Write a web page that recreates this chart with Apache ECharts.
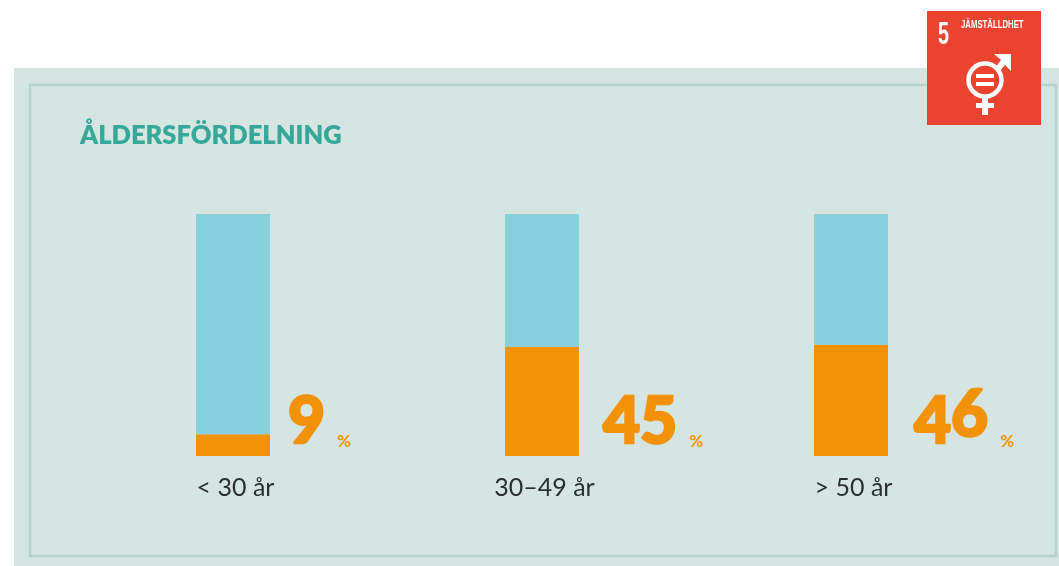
<!DOCTYPE html>
<html><head><meta charset="utf-8">
<script src="https://cdn.jsdelivr.net/npm/echarts@6/dist/echarts.min.js"></script>
<style>html,body{margin:0;padding:0;background:#fff}#c{width:1059px;height:566px}</style>
</head><body><div id="c"></div>
<script>
const categories = ['< 30 år', '30–49 år', '> 50 år'];
const sharePct = [9, 45, 46];
const restPct = [91, 55, 54];
const titleText = 'ÅLDERSFÖRDELNING';
const labelOffsets = [18, 24, 26];

const chart = echarts.init(document.getElementById('c'), null, {renderer: 'canvas'});
const white = '#fff';
const numStyle = {fontFamily: 'Lato', fontWeight: 900, fontSize: 64, color: '#f39207', lineHeight: 62, textBorderColor: '#f39207', textBorderWidth: 2.5};
chart.setOption({
  animation: false,
  backgroundColor: '#fff',
  title: {
    text: titleText, left: 75, top: 118,
    textStyle: {fontFamily: 'Lato', fontWeight: 800, fontSize: 25.5, color: '#35a899'}
  },
  grid: {left: 78.5, width: 927, top: 214, height: 242},
  xAxis: {
    type: 'category', data: categories,
    axisLine: {show: false}, axisTick: {show: false},
    axisLabel: {fontFamily: 'Lato', fontSize: 25, color: '#2a2f33', margin: 19, interval: 0, padding: [0, 0, 0, 5]}
  },
  yAxis: {type: 'value', min: 0, max: 100, show: false},
  series: [
    {
      type: 'bar', stack: 'a', barWidth: 74, z: 3,
      itemStyle: {color: '#f39207'},
      data: sharePct.map((v, i) => ({
        value: v,
        label: {offset: [labelOffsets[i], -1]}
      })),
      label: {
        show: true, position: ['100%', '100%'], align: 'left', verticalAlign: 'bottom',
        formatter: p => String(p.value).split('').map(d => (d === '6' ? '{up|6}' : '{n|' + d + '}')).join('') + '{p|%}',
        rich: {
          n: {...numStyle, padding: [7, 0, 11, 0]},
          up: {...numStyle, padding: [0, 0, 18, 0]},
          p: {fontFamily: 'Lato', fontWeight: 700, fontSize: 17, lineHeight: 17, color: '#f39207', padding: [36, 0, 0, 12]}
        }
      }
    },
    {
      type: 'bar', stack: 'a', barWidth: 74, z: 3,
      itemStyle: {color: '#89d0df'},
      data: restPct
    }
  ],
  graphic: {elements: [
    {type: 'rect', silent: true, z: -10, shape: {x: 14, y: 68, width: 1045, height: 498}, style: {fill: '#d5e5e1'}},
    {type: 'rect', silent: true, z: -9, shape: {x: 30, y: 85, width: 1026, height: 471}, style: {fill: 'none', stroke: '#b5d3ca', lineWidth: 2.5}},
    {type: 'rect', silent: true, z: 5, shape: {x: 927, y: 11, width: 114, height: 114}, style: {fill: '#ea432f'}},
    {type: 'text', silent: true, z: 6, x: 938, y: 19, scaleX: 0.62, style: {text: '5', fontFamily: 'Liberation Sans', fontWeight: 700, fontSize: 32, fill: white}},
    {type: 'text', silent: true, z: 6, x: 961, y: 20, scaleX: 0.74, style: {text: 'JÄMSTÄLLDHET', fontFamily: 'Liberation Sans', fontWeight: 700, fontSize: 10.5, fill: white}},
    {type: 'circle', silent: true, z: 6, shape: {cx: 985, cy: 80, r: 16.5}, style: {fill: 'none', stroke: white, lineWidth: 4.5}},
    {type: 'rect', silent: true, z: 6, shape: {x: 976, y: 74, width: 18, height: 4}, style: {fill: white}},
    {type: 'rect', silent: true, z: 6, shape: {x: 976, y: 82, width: 18, height: 4}, style: {fill: white}},
    {type: 'rect', silent: true, z: 6, shape: {x: 982, y: 97, width: 6, height: 18}, style: {fill: white}},
    {type: 'rect', silent: true, z: 6, shape: {x: 976, y: 103, width: 18, height: 5}, style: {fill: white}},
    {type: 'polygon', silent: true, z: 6, shape: {points: [[994, 54], [1011, 54], [1011, 71], [1005, 65], [999, 72], [995, 68], [1001, 60]]}, style: {fill: white}}
  ]}
});
</script></body></html>
